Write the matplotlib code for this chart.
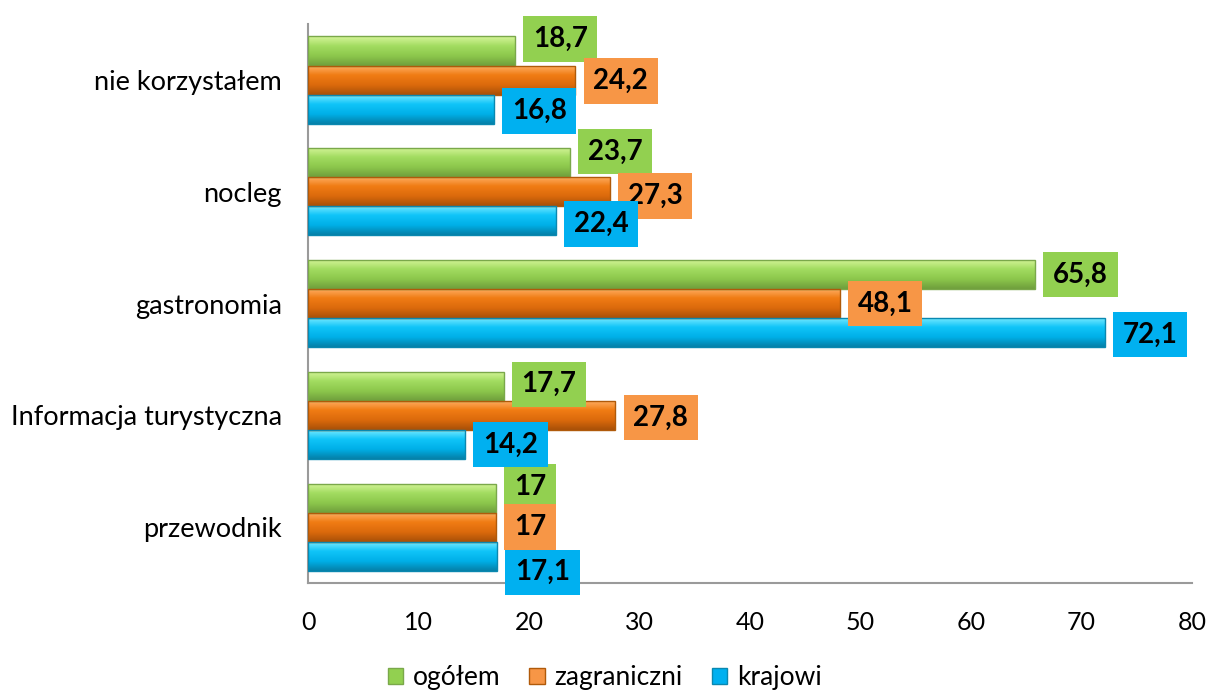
import matplotlib.pyplot as plt
import numpy as np
from matplotlib.colors import LinearSegmentedColormap

categories = ['przewodnik', 'Informacja turystyczna', 'gastronomia', 'nocleg', 'nie korzystałem']
ogolem = [17, 17.7, 65.8, 23.7, 18.7]
zagraniczni = [17, 27.8, 48.1, 27.3, 24.2]
krajowi = [17.1, 14.2, 72.1, 22.4, 16.8]
series_names = ['ogółem', 'zagraniczni', 'krajowi']

# light top -> base -> dark bottom, like the bevelled office bars
grads = [['#d6f59a', '#a2dc60', '#8cc74c', '#6f9e3c'],
         ['#ffb066', '#f07c14', '#dc6a0c', '#a85008'],
         ['#7cecff', '#10c4f8', '#00b0e8', '#0580a8']]
edge_colors = ['#7aa84a', '#b05a0a', '#0a88b0']
box_colors = ['#92d050', '#f79646', '#00b0f0']
# vertical nudges of the value boxes (pixels, + = down), per series, per category
label_dy = [[-11, -2, 0, -11, -12],
            [0, 2, 0, 4, 1],
            [16, 0, 2, 3, 2]]

plt.rcParams['font.family'] = ['Lato', 'DejaVu Sans']

fig = plt.figure(figsize=(12.09, 6.9), dpi=100)
ax = fig.add_axes([0.2548, 0.155, 0.7312, 0.81])

y = np.arange(len(categories))
h = 0.26
data = [ogolem, zagraniczni, krajowi]
offsets = [h, 0, -h]
grad = np.linspace(0, 1, 64).reshape(-1, 1)
for k in range(3):
    cmap = LinearSegmentedColormap.from_list('g%d' % k, grads[k])
    bars = ax.barh(y + offsets[k], data[k], h, color=grads[k][1], edgecolor=edge_colors[k],
                   linewidth=1.0, label=series_names[k], zorder=3)
    for i, b in enumerate(bars):
        x0, y0, w, hh = b.get_x(), b.get_y(), b.get_width(), b.get_height()
        im = ax.imshow(grad, cmap=cmap, aspect='auto', origin='upper',
                       extent=(x0, x0 + w, y0, y0 + hh), zorder=3.5)
        im.set_clip_path(b)
        v = data[k][i]
        txt = ('%g' % v).replace('.', ',')
        ax.annotate(txt, xy=(v, y0 + hh / 2), xytext=(18, -label_dy[k][i]),
                    textcoords='offset pixels', ha='left', va='center', fontsize=20,
                    fontweight='bold', color='black', zorder=5,
                    bbox=dict(boxstyle='square,pad=0.35', fc=box_colors[k], ec='none'))
    for b in bars:
        b.set_facecolor('none')
        b.set_zorder(4)

ax.set_xlim(0, 80)
ax.set_ylim(-0.5, len(categories) - 0.5)
ax.set_xticks(range(0, 81, 10))
ax.set_yticks(y)
ax.set_yticklabels(categories)
ax.tick_params(axis='both', length=0, colors='black')
ax.tick_params(axis='x', pad=20, labelsize=18)
ax.tick_params(axis='y', pad=19, labelsize=19.5)
for s in ['top', 'right']:
    ax.spines[s].set_visible(False)
for s in ['left', 'bottom']:
    ax.spines[s].set_color('#9a9a9a')
    ax.spines[s].set_linewidth(1.5)

handles = [plt.Rectangle((0, 0), 1, 1, fc=box_colors[k], ec=edge_colors[k]) for k in range(3)]
fig.legend(handles, series_names, loc='lower center', bbox_to_anchor=(0.5, -0.035), ncol=3,
           frameon=False, fontsize=19, handlelength=0.6, handleheight=0.6, handletextpad=0.35,
           columnspacing=1.1)

fig.savefig('out.png', dpi=100)
